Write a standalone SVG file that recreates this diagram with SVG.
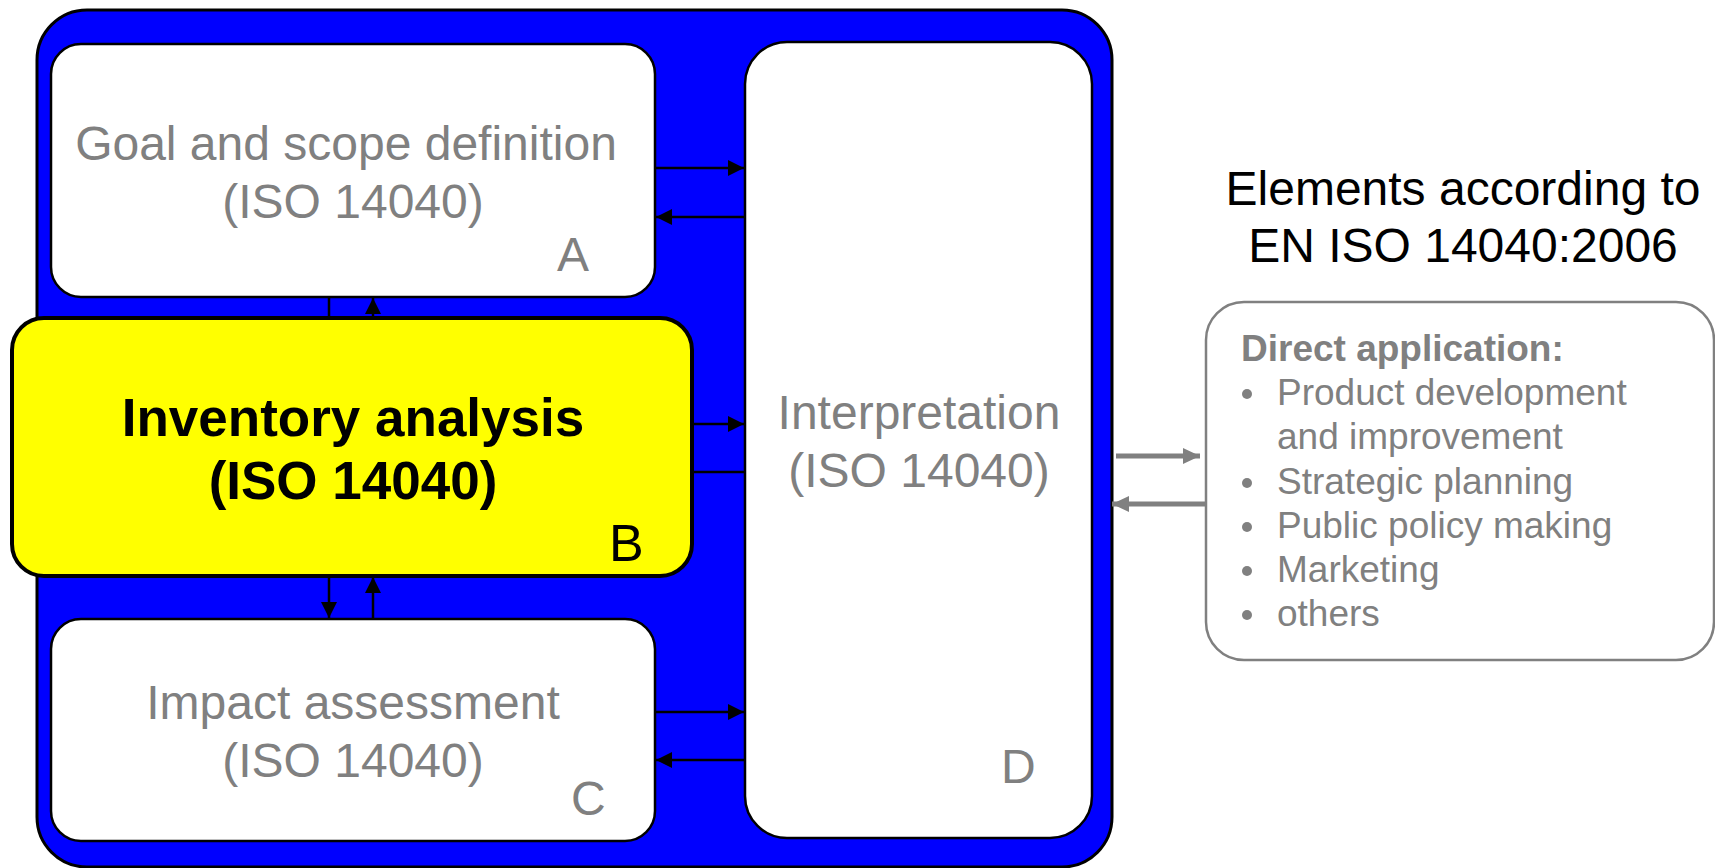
<svg xmlns="http://www.w3.org/2000/svg" width="1715" height="868" viewBox="0 0 1715 868">
  <defs>
    <marker id="arr" viewBox="0 0 16 16" refX="16" refY="8" markerWidth="16" markerHeight="16" markerUnits="userSpaceOnUse" orient="auto">
      <path d="M0,0 L16,8 L0,16 Z" fill="#000"/>
    </marker>
    <marker id="arrGray" viewBox="0 0 17 16" refX="17" refY="8" markerWidth="17" markerHeight="16" markerUnits="userSpaceOnUse" orient="auto">
      <path d="M0,0 L17,8 L0,16 Z" fill="#808080"/>
    </marker>
  </defs>
  <style>
    .frame { fill: #0000ff; stroke: #000; stroke-width: 3; }
    .step { fill: #fff; stroke: #000; stroke-width: 2.5; }
    .focus { fill: #ffff00; stroke: #000; stroke-width: 4; }
    .app { fill: #fff; stroke: #808080; stroke-width: 2.5; }
    .t { font-family: "Liberation Sans", Arial, sans-serif; }
    .grey { fill: #808080; font-size: 48px; }
    .mid { text-anchor: middle; }
    .bold { font-weight: bold; }
    .link { stroke: #000; stroke-width: 2.5; fill: none; }
    .glink { stroke: #808080; stroke-width: 5; fill: none; }
    .list { fill: #808080; font-size: 37px; }
  </style>

  <!-- blue frame around the four phases -->
  <g id="frame">
    <rect class="frame" x="37" y="10" width="1075" height="857" rx="50" ry="50"/>
  </g>

  <g id="node-a">
    <rect class="step" x="51" y="44" width="604" height="253" rx="30" ry="30"/>
    <text class="t grey mid" x="346" y="160">Goal and scope definition</text>
    <text class="t grey mid" x="353" y="218">(ISO 14040)</text>
    <text class="t grey" x="557" y="271">A</text>
  </g>

  <g id="node-d">
    <rect class="step" x="745" y="42" width="347" height="796" rx="42" ry="42"/>
    <text class="t grey mid" x="919" y="429">Interpretation</text>
    <text class="t grey mid" x="919" y="487">(ISO 14040)</text>
    <text class="t grey" x="1001" y="783">D</text>
  </g>

  <g id="node-c">
    <rect class="step" x="51" y="619" width="604" height="222" rx="30" ry="30"/>
    <text class="t grey mid" x="353" y="719">Impact assessment</text>
    <text class="t grey mid" x="353" y="777">(ISO 14040)</text>
    <text class="t grey" x="571" y="815">C</text>
  </g>

  <g id="node-b">
    <rect class="focus" x="12" y="318" width="680" height="258" rx="32" ry="32"/>
    <text class="t bold mid" x="353" y="436" font-size="53" fill="#000">Inventory analysis</text>
    <text class="t bold mid" x="353" y="499" font-size="53" fill="#000">(ISO 14040)</text>
    <text class="t" x="609" y="561" font-size="52" fill="#000">B</text>
  </g>

  <g id="connectors">
    <!-- A <-> D -->
    <line class="link" x1="655" y1="168" x2="744" y2="168" marker-end="url(#arr)"/>
    <line class="link" x1="745" y1="217" x2="656" y2="217" marker-end="url(#arr)"/>
    <!-- B <-> D -->
    <line class="link" x1="692" y1="424" x2="744" y2="424" marker-end="url(#arr)"/>
    <line class="link" x1="692" y1="472" x2="745" y2="472"/>
    <!-- C <-> D -->
    <line class="link" x1="655" y1="712" x2="744" y2="712" marker-end="url(#arr)"/>
    <line class="link" x1="745" y1="760" x2="656" y2="760" marker-end="url(#arr)"/>
    <!-- A <-> B -->
    <line class="link" x1="329" y1="297" x2="329" y2="318"/>
    <line class="link" x1="373" y1="318" x2="373" y2="298" marker-end="url(#arr)"/>
    <!-- B <-> C -->
    <line class="link" x1="329" y1="576" x2="329" y2="618" marker-end="url(#arr)"/>
    <line class="link" x1="373" y1="619" x2="373" y2="577" marker-end="url(#arr)"/>
    <!-- frame <-> applications -->
    <line class="glink" x1="1116" y1="456" x2="1200" y2="456" marker-end="url(#arrGray)"/>
    <line class="glink" x1="1205" y1="504" x2="1112" y2="504" marker-end="url(#arrGray)"/>
  </g>

  <g id="title">
    <text class="t mid" x="1463" y="205" font-size="48" fill="#000">Elements according to</text>
    <text class="t mid" x="1463" y="262" font-size="48" fill="#000">EN ISO 14040:2006</text>
  </g>

  <g id="applications">
    <rect class="app" x="1206" y="302" width="508" height="358" rx="38" ry="38"/>
    <text class="t list bold" x="1241" y="361">Direct application:</text>
    <g fill="#808080">
      <circle cx="1247" cy="394" r="5"/>
      <circle cx="1247" cy="483" r="5"/>
      <circle cx="1247" cy="527" r="5"/>
      <circle cx="1247" cy="571" r="5"/>
      <circle cx="1247" cy="615" r="5"/>
    </g>
    <text class="t list" x="1277" y="405">Product development</text>
    <text class="t list" x="1277" y="449">and improvement</text>
    <text class="t list" x="1277" y="494">Strategic planning</text>
    <text class="t list" x="1277" y="538">Public policy making</text>
    <text class="t list" x="1277" y="582">Marketing</text>
    <text class="t list" x="1277" y="626">others</text>
  </g>
</svg>
